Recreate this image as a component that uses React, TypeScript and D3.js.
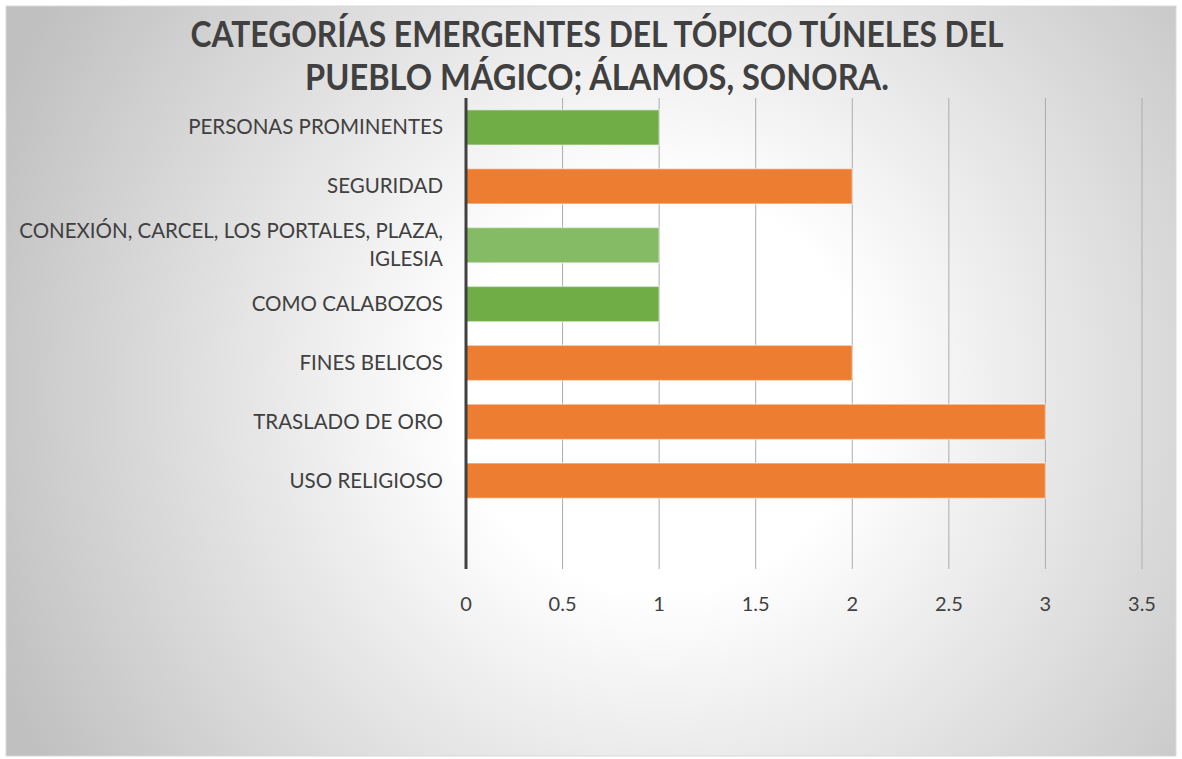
import React from 'react';
import * as d3 from 'd3';

const categories = [
  'PERSONAS PROMINENTES',
  'SEGURIDAD',
  'CONEXIÓN, CARCEL, LOS PORTALES, PLAZA, IGLESIA',
  'COMO CALABOZOS',
  'FINES BELICOS',
  'TRASLADO DE ORO',
  'USO RELIGIOSO',
  '',
];
const values = [1, 2, 1, 1, 2, 3, 3, 0];
const barColors = ['#70ad47', '#ed7d31', '#85bb65', '#70ad47', '#ed7d31', '#ed7d31', '#ed7d31', '#ed7d31'];
const tickValues = [0, 0.5, 1, 1.5, 2, 2.5, 3, 3.5];
const titleLines = ['CATEGORÍAS EMERGENTES DEL TÓPICO TÚNELES DEL', 'PUEBLO MÁGICO; ÁLAMOS, SONORA.'];

const W = 1182;
const H = 759;
const plot = { left: 466, right: 1142, top: 98, bottom: 569 };
const font = 'Lato, "Open Sans", sans-serif';

const App: React.FC = () => {
  const x = d3.scaleLinear().domain([0, 3.5]).range([plot.left, plot.right]);
  const y = d3.scaleBand<string>()
    .domain(categories.map((c, i) => String(i)))
    .range([plot.top, plot.bottom])
    .paddingInner(0.4)
    .paddingOuter(0.2);

  const wrapLabel = (label: string): string[] =>
    label.startsWith('CONEXIÓN') ? ['CONEXIÓN, CARCEL, LOS PORTALES, PLAZA,', 'IGLESIA'] : [label];

  return (
    <svg width={W} height={H} style={{ position: 'absolute', left: 0, top: 0 }}>
      <defs>
        <radialGradient id="bg" gradientUnits="userSpaceOnUse" cx={660} cy={390} r={720}>
          <stop offset="0.28" stopColor="#ffffff" />
          <stop offset="1" stopColor="#c0c0c0" />
        </radialGradient>
      </defs>
      <rect x={6} y={6} width={1170} height={750} fill="url(#bg)" stroke="#d9d9d9" strokeWidth={1} />

      {titleLines.map((t, i) => (
        <text
          key={i}
          x={597}
          y={47 + i * 43}
          textAnchor="middle"
          fontFamily={font}
          fontWeight={700}
          fontSize={36}
          fill="#404040"
          textLength={i === 0 ? 813 : 584}
          lengthAdjust="spacingAndGlyphs"
        >
          {t}
        </text>
      ))}

      {tickValues.map(t => (
        <g key={t}>
          {t > 0 && (
            <line x1={x(t)} x2={x(t)} y1={plot.top} y2={plot.bottom} stroke="#acacac" strokeWidth={1} />
          )}
          <text x={x(t)} y={611} textAnchor="middle" fontFamily={font} fontSize={20} fill="#404040">
            {t}
          </text>
        </g>
      ))}

      {values.map((v, i) =>
        v > 0 ? (
          <rect
            key={i}
            x={x(0)}
            y={y(String(i))!}
            width={x(v) - x(0)}
            height={y.bandwidth()}
            fill={barColors[i]}
            stroke="#ffffff"
            strokeOpacity={0.45}
            strokeWidth={1.5}
          />
        ) : null
      )}

      <line x1={plot.left} x2={plot.left} y1={plot.top} y2={plot.bottom} stroke="#404040" strokeWidth={3} />

      {categories.map((c, i) => {
        const lines = wrapLabel(c);
        const cy = y(String(i))! + y.bandwidth() / 2;
        return (
          <text key={i} textAnchor="end" fontFamily={font} fontSize={20.5} fill="#404040">
            {lines.map((l, j) => (
              <tspan key={j} x={443} y={cy + 7 + (j - (lines.length - 1) / 2) * 28}>
                {l}
              </tspan>
            ))}
          </text>
        );
      })}
    </svg>
  );
};

export default App;
